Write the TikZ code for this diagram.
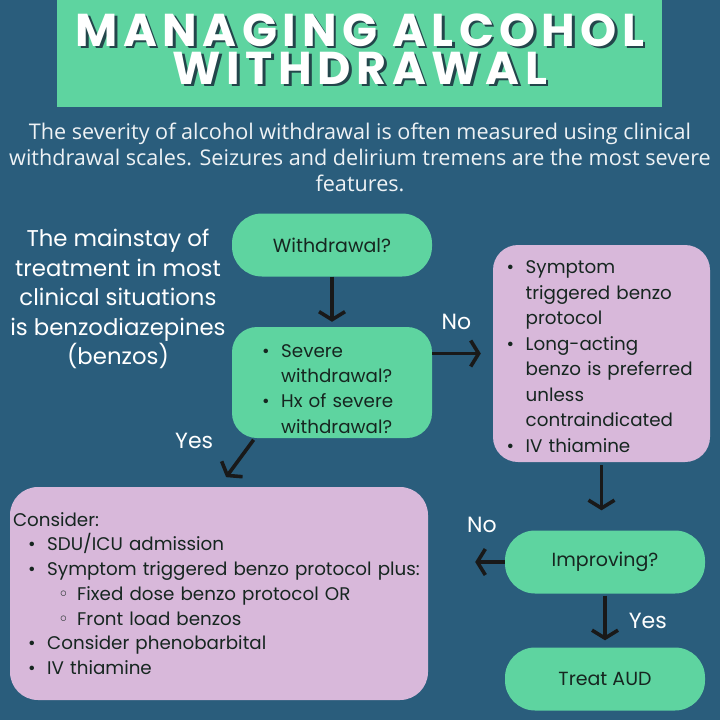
\documentclass[tikz,border=0pt]{standalone}
\usepackage{fontspec}
\setmainfont{Poppins}
\newfontfamily\titlefont[LetterSpace=12]{Poppins}
\newfontfamily\subfont{Open Sans}
\newfontfamily\symfont{DejaVu Sans}
\usetikzlibrary{arrows.meta, positioning}
\definecolor{wdbg}{RGB}{42,93,124}
\definecolor{wdgreen}{RGB}{94,212,160}
\definecolor{wdpink}{RGB}{216,184,218}
\definecolor{wdink}{RGB}{22,38,32}
\definecolor{wdshadow}{RGB}{35,70,75}
% bullet line with hanging indent
\newcommand\bitem[2][0pt]{\par\hangindent=\dimexpr#1+1.05em\relax\hangafter=1\noindent\hspace*{#1}\makebox[1.05em][l]{\textbullet}#2}
\newcommand\oitem[2][0pt]{\par\noindent\hspace*{#1}\makebox[1.05em][l]{{\symfont\char"25E6}}#2}

\begin{document}
\begin{tikzpicture}[x=1pt, y=-1pt,
    greenbox/.style={fill=wdgreen, text=wdink, rounded corners=30pt,
      minimum width=200pt, minimum height=63pt, inner sep=0pt,
      font=\fontsize{19}{25}\selectfont},
    pinkbox/.style={fill=wdpink, text=wdink, rounded corners=28pt,
      align=left, inner sep=0pt, font=\fontsize{18.3}{25.5}\selectfont},
    arr/.style={line width=3.6pt, black!90,
      -{Straight Barb[length=8pt, width=26pt]}},
    lbl/.style={text=white, font=\fontsize{22}{26}\selectfont, inner sep=0pt}]
  % Background
  \fill[wdbg] (0,0) rectangle (720,720);

  % Title
  \node[fill=wdgreen, minimum width=605pt, minimum height=107pt,
        inner sep=0pt] (tbox) at (359.5,53.5) {};
  \node[text=wdshadow, align=center, font=\titlefont\bfseries\fontsize{46}{38}\selectfont]
    (tshadow) at (362.5,51.5) {MANAGING ALCOHOL\\WITHDRAWAL};
  \node[text=white, align=center, font=\titlefont\bfseries\fontsize{46}{38}\selectfont]
    (title) at (360,49) {MANAGING ALCOHOL\\WITHDRAWAL};

  % Intro text
  \node[text=white!92!wdbg, align=center, font=\subfont\fontsize{21.6}{26}\selectfont]
    (intro) at (360,157) {The severity of alcohol withdrawal is often measured using clinical\\
    withdrawal scales. Seizures and delirium tremens are the most severe\\features.};

  % Side note
  \node[text=white, align=center, font=\fontsize{22.8}{29.5}\selectfont]
    (note) at (118,299) {The mainstay of\\treatment in most\\clinical situations\\
    is benzodiazepines\\(benzos)};

  % Flow boxes
  \node[greenbox] (wd) at (332,245) {Withdrawal?};
  \node[greenbox, rounded corners=25pt, minimum height=111pt, text width=140pt,
        align=left, font=\fontsize{18.3}{25.3}\selectfont] (sev) at (332,382.5)
    {\bitem{Severe\newline withdrawal?}\bitem{Hx of severe\newline withdrawal?}\par};
  \node[pinkbox, minimum width=217pt, minimum height=217pt, text width=190pt,
        rounded corners=25pt] (mild) at (601.5,353.5)
    {\bitem{Symptom\newline triggered benzo\newline protocol}
     \bitem{Long-acting\newline benzo is preferred\newline unless\newline contraindicated}
     \bitem{IV thiamine}\par\vspace*{6pt}};
  \node[pinkbox, minimum width=418pt, minimum height=213pt, text width=412pt,
        font=\fontsize{18.3}{24.7}\selectfont] (cons) at (219,593.5)
    {Consider:
     \bitem[15pt]{SDU/ICU admission}
     \bitem[15pt]{Symptom triggered benzo protocol plus:}
     \oitem[45pt]{Fixed dose benzo protocol OR}
     \oitem[45pt]{Front load benzos}
     \bitem[15pt]{Consider phenobarbital}
     \bitem[15pt]{IV thiamine}\par};
  \node[greenbox] (impr) at (605,562) {Improving?};
  \node[greenbox] (aud) at (605,679) {Treat AUD};

  % Connectors
  \draw[arr, shorten >=5pt] (wd) -- (sev);
  \draw[arr, shorten >=12pt] (sev.east |- mild.west) -- (mild.west)
    node[lbl, pos=0.4, above=22pt] (no1) {No};
  \draw[arr, shorten <=2pt, shorten >=12pt] ([xshift=23pt]sev.south west) -- (cons.north)
    node[lbl, pos=0.05, left=38pt] (yes1) {Yes};
  \draw[arr, shorten <=3pt, shorten >=20pt] (mild.south) -- (mild.south |- impr.north);
  \draw[arr, shorten >=47pt] (impr.west) -- (impr.west -| cons.east)
    node[lbl, pos=0.3, above=28pt] (no2) {No};
  \draw[arr, shorten <=2pt, shorten >=7pt] (impr) -- (aud)
    node[lbl, midway, right=22pt] (yes2) {Yes};
\end{tikzpicture}
\end{document}
